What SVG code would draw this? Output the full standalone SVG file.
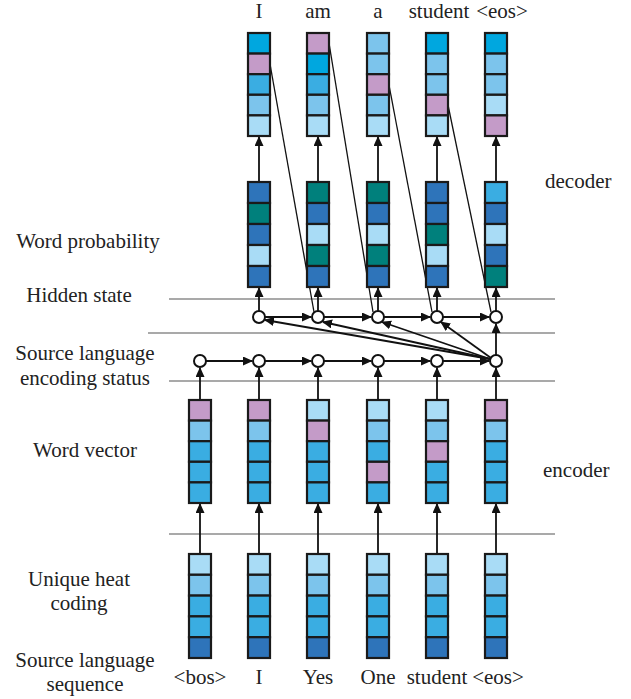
<svg xmlns="http://www.w3.org/2000/svg" width="631" height="699" viewBox="0 0 631 699">
<style>
text{font-family:"Liberation Serif","Times New Roman",serif;font-size:21px;fill:#222}
.c{stroke:#1a1a1a;stroke-width:2.2}
.pa{fill:#a9dcf6}.ml{fill:#7cc4ec}.md{fill:#3aade2}.cy{fill:#00a7df}.dk{fill:#2e74ba}.tl{fill:#00807c}.pk{fill:#c49bc8}
.g{stroke:#8c8c8c;stroke-width:1.5}
.a{stroke:#111;stroke-width:1.8;fill:none;marker-end:url(#ah)}
.t{stroke:#111;stroke-width:1.3;fill:none}
.n{fill:#fff;stroke:#111;stroke-width:2}
</style>
<defs>
<marker id="ah" markerWidth="10" markerHeight="9" refX="9" refY="4.5" orient="auto" markerUnits="userSpaceOnUse">
<path d="M0,0 L10,4.5 L0,9 Z" fill="#111"/>
</marker>
</defs>

<g id="guides">
<line class="g" x1="169" y1="299" x2="555" y2="299"/>
<line class="g" x1="148" y1="333" x2="555" y2="333"/>
<line class="g" x1="169" y1="381" x2="555" y2="381"/>
<line class="g" x1="169" y1="534" x2="555" y2="534"/>
</g>

<g id="labels">
<text x="88" y="248" text-anchor="middle">Word probability</text>
<text x="79" y="302" text-anchor="middle">Hidden state</text>
<text x="85" y="360" text-anchor="middle">Source language</text>
<text x="85" y="385" text-anchor="middle">encoding status</text>
<text x="85" y="457" text-anchor="middle">Word vector</text>
<text x="79" y="586" text-anchor="middle">Unique heat</text>
<text x="79" y="610" text-anchor="middle">coding</text>
<text x="85" y="667" text-anchor="middle">Source language</text>
<text x="85" y="691" text-anchor="middle">sequence</text>
<text x="545" y="188">decoder</text>
<text x="543" y="477">encoder</text>
<text x="259" y="18" text-anchor="middle">I</text>
<text x="318" y="18" text-anchor="middle">am</text>
<text x="378" y="18" text-anchor="middle">a</text>
<text x="439" y="18" text-anchor="middle">student</text>
<text x="502" y="18" text-anchor="middle">&lt;eos&gt;</text>
<text x="200" y="684" text-anchor="middle">&lt;bos&gt;</text>
<text x="259" y="684" text-anchor="middle">I</text>
<text x="318" y="684" text-anchor="middle">Yes</text>
<text x="378" y="684" text-anchor="middle">One</text>
<text x="437" y="684" text-anchor="middle">student</text>
<text x="498" y="684" text-anchor="middle">&lt;eos&gt;</text>
</g>

<g id="connectors">
<line class="a" x1="200" y1="554" x2="200" y2="504"/>
<line class="a" x1="259" y1="554" x2="259" y2="504"/>
<line class="a" x1="318" y1="554" x2="318" y2="504"/>
<line class="a" x1="378" y1="554" x2="378" y2="504"/>
<line class="a" x1="437" y1="554" x2="437" y2="504"/>
<line class="a" x1="496" y1="554" x2="496" y2="504"/>
<line class="a" x1="200" y1="400" x2="200" y2="368"/>
<line class="a" x1="259" y1="400" x2="259" y2="368"/>
<line class="a" x1="318" y1="400" x2="318" y2="368"/>
<line class="a" x1="378" y1="400" x2="378" y2="368"/>
<line class="a" x1="437" y1="400" x2="437" y2="368"/>
<line class="a" x1="496" y1="400" x2="496" y2="368"/>
<line class="a" x1="206" y1="361" x2="252" y2="361"/>
<line class="a" x1="265" y1="361" x2="311" y2="361"/>
<line class="a" x1="324" y1="361" x2="371" y2="361"/>
<line class="a" x1="384" y1="361" x2="430" y2="361"/>
<line class="a" x1="443" y1="361" x2="489" y2="361"/>
<line class="a" x1="496" y1="355" x2="496" y2="324"/>
<line class="a" x1="490" y1="359" x2="265" y2="320"/>
<line class="a" x1="490" y1="359" x2="323" y2="322"/>
<line class="a" x1="490" y1="359" x2="382" y2="322"/>
<line class="a" x1="491" y1="358" x2="441" y2="322"/>
<line class="a" x1="265" y1="317" x2="311" y2="317"/>
<line class="a" x1="324" y1="317" x2="371" y2="317"/>
<line class="a" x1="384" y1="317" x2="430" y2="317"/>
<line class="a" x1="443" y1="317" x2="489" y2="317"/>
<line class="a" x1="259" y1="311" x2="259" y2="288"/>
<line class="a" x1="318" y1="311" x2="318" y2="288"/>
<line class="a" x1="378" y1="311" x2="378" y2="288"/>
<line class="a" x1="437" y1="311" x2="437" y2="288"/>
<line class="a" x1="496" y1="311" x2="496" y2="288"/>
<line class="a" x1="259" y1="182" x2="259" y2="137"/>
<line class="a" x1="318" y1="182" x2="318" y2="137"/>
<line class="a" x1="378" y1="182" x2="378" y2="137"/>
<line class="a" x1="437" y1="182" x2="437" y2="137"/>
<line class="a" x1="496" y1="182" x2="496" y2="137"/>
<line class="t" x1="270" y1="64" x2="314" y2="312"/>
<line class="t" x1="329" y1="43" x2="373" y2="312"/>
<line class="t" x1="389" y1="85" x2="432" y2="312"/>
<line class="t" x1="448" y1="105" x2="491" y2="312"/>
</g>

<g id="encoder-states">
<circle class="n" cx="200" cy="361" r="6"/>
<circle class="n" cx="259" cy="361" r="6"/>
<circle class="n" cx="318" cy="361" r="6"/>
<circle class="n" cx="378" cy="361" r="6"/>
<circle class="n" cx="437" cy="361" r="6"/>
<circle class="n" cx="496" cy="361" r="6"/>
</g>
<g id="decoder-states">
<circle class="n" cx="259" cy="317" r="6"/>
<circle class="n" cx="318" cy="317" r="6"/>
<circle class="n" cx="378" cy="317" r="6"/>
<circle class="n" cx="437" cy="317" r="6"/>
<circle class="n" cx="496" cy="317" r="6"/>
</g>

<g id="out-1" transform="translate(248,33)">
<rect class="c cy" x="0" y="0" width="22" height="20.6"/><rect class="c pk" x="0" y="20.6" width="22" height="20.6"/><rect class="c md" x="0" y="41.2" width="22" height="20.6"/><rect class="c ml" x="0" y="61.8" width="22" height="20.6"/><rect class="c pa" x="0" y="82.4" width="22" height="20.6"/>
</g>
<g id="out-2" transform="translate(307,33)">
<rect class="c pk" x="0" y="0" width="22" height="20.6"/><rect class="c cy" x="0" y="20.6" width="22" height="20.6"/><rect class="c md" x="0" y="41.2" width="22" height="20.6"/><rect class="c ml" x="0" y="61.8" width="22" height="20.6"/><rect class="c pa" x="0" y="82.4" width="22" height="20.6"/>
</g>
<g id="out-3" transform="translate(367,33)">
<rect class="c ml" x="0" y="0" width="22" height="20.6"/><rect class="c ml" x="0" y="20.6" width="22" height="20.6"/><rect class="c pk" x="0" y="41.2" width="22" height="20.6"/><rect class="c ml" x="0" y="61.8" width="22" height="20.6"/><rect class="c pa" x="0" y="82.4" width="22" height="20.6"/>
</g>
<g id="out-4" transform="translate(426,33)">
<rect class="c cy" x="0" y="0" width="22" height="20.6"/><rect class="c ml" x="0" y="20.6" width="22" height="20.6"/><rect class="c ml" x="0" y="41.2" width="22" height="20.6"/><rect class="c pk" x="0" y="61.8" width="22" height="20.6"/><rect class="c pa" x="0" y="82.4" width="22" height="20.6"/>
</g>
<g id="out-5" transform="translate(485,33)">
<rect class="c cy" x="0" y="0" width="22" height="20.6"/><rect class="c ml" x="0" y="20.6" width="22" height="20.6"/><rect class="c ml" x="0" y="41.2" width="22" height="20.6"/><rect class="c pa" x="0" y="61.8" width="22" height="20.6"/><rect class="c pk" x="0" y="82.4" width="22" height="20.6"/>
</g>

<g id="prob-1" transform="translate(248,182)">
<rect class="c dk" x="0" y="0" width="22" height="21"/><rect class="c tl" x="0" y="21" width="22" height="21"/><rect class="c dk" x="0" y="42" width="22" height="21"/><rect class="c pa" x="0" y="63" width="22" height="21"/><rect class="c dk" x="0" y="84" width="22" height="21"/>
</g>
<g id="prob-2" transform="translate(307,182)">
<rect class="c tl" x="0" y="0" width="22" height="21"/><rect class="c dk" x="0" y="21" width="22" height="21"/><rect class="c pa" x="0" y="42" width="22" height="21"/><rect class="c tl" x="0" y="63" width="22" height="21"/><rect class="c dk" x="0" y="84" width="22" height="21"/>
</g>
<g id="prob-3" transform="translate(367,182)">
<rect class="c tl" x="0" y="0" width="22" height="21"/><rect class="c dk" x="0" y="21" width="22" height="21"/><rect class="c pa" x="0" y="42" width="22" height="21"/><rect class="c tl" x="0" y="63" width="22" height="21"/><rect class="c dk" x="0" y="84" width="22" height="21"/>
</g>
<g id="prob-4" transform="translate(426,182)">
<rect class="c dk" x="0" y="0" width="22" height="21"/><rect class="c dk" x="0" y="21" width="22" height="21"/><rect class="c tl" x="0" y="42" width="22" height="21"/><rect class="c pa" x="0" y="63" width="22" height="21"/><rect class="c dk" x="0" y="84" width="22" height="21"/>
</g>
<g id="prob-5" transform="translate(485,182)">
<rect class="c md" x="0" y="0" width="22" height="21"/><rect class="c dk" x="0" y="21" width="22" height="21"/><rect class="c pa" x="0" y="42" width="22" height="21"/><rect class="c dk" x="0" y="63" width="22" height="21"/><rect class="c tl" x="0" y="84" width="22" height="21"/>
</g>

<g id="vec-1" transform="translate(189,400)">
<rect class="c pk" x="0" y="0" width="22" height="20.6"/><rect class="c ml" x="0" y="20.6" width="22" height="20.6"/><rect class="c md" x="0" y="41.2" width="22" height="20.6"/><rect class="c md" x="0" y="61.8" width="22" height="20.6"/><rect class="c md" x="0" y="82.4" width="22" height="20.6"/>
</g>
<g id="vec-2" transform="translate(248,400)">
<rect class="c pk" x="0" y="0" width="22" height="20.6"/><rect class="c ml" x="0" y="20.6" width="22" height="20.6"/><rect class="c md" x="0" y="41.2" width="22" height="20.6"/><rect class="c md" x="0" y="61.8" width="22" height="20.6"/><rect class="c md" x="0" y="82.4" width="22" height="20.6"/>
</g>
<g id="vec-3" transform="translate(307,400)">
<rect class="c pa" x="0" y="0" width="22" height="20.6"/><rect class="c pk" x="0" y="20.6" width="22" height="20.6"/><rect class="c md" x="0" y="41.2" width="22" height="20.6"/><rect class="c md" x="0" y="61.8" width="22" height="20.6"/><rect class="c md" x="0" y="82.4" width="22" height="20.6"/>
</g>
<g id="vec-4" transform="translate(367,400)">
<rect class="c pa" x="0" y="0" width="22" height="20.6"/><rect class="c ml" x="0" y="20.6" width="22" height="20.6"/><rect class="c md" x="0" y="41.2" width="22" height="20.6"/><rect class="c pk" x="0" y="61.8" width="22" height="20.6"/><rect class="c md" x="0" y="82.4" width="22" height="20.6"/>
</g>
<g id="vec-5" transform="translate(426,400)">
<rect class="c pa" x="0" y="0" width="22" height="20.6"/><rect class="c ml" x="0" y="20.6" width="22" height="20.6"/><rect class="c pk" x="0" y="41.2" width="22" height="20.6"/><rect class="c md" x="0" y="61.8" width="22" height="20.6"/><rect class="c md" x="0" y="82.4" width="22" height="20.6"/>
</g>
<g id="vec-6" transform="translate(485,400)">
<rect class="c pk" x="0" y="0" width="22" height="20.6"/><rect class="c ml" x="0" y="20.6" width="22" height="20.6"/><rect class="c md" x="0" y="41.2" width="22" height="20.6"/><rect class="c md" x="0" y="61.8" width="22" height="20.6"/><rect class="c md" x="0" y="82.4" width="22" height="20.6"/>
</g>

<g id="hot-1" transform="translate(189,554)">
<rect class="c pa" x="0" y="0" width="22" height="20.8"/><rect class="c ml" x="0" y="20.8" width="22" height="20.8"/><rect class="c md" x="0" y="41.6" width="22" height="20.8"/><rect class="c md" x="0" y="62.4" width="22" height="20.8"/><rect class="c dk" x="0" y="83.2" width="22" height="20.8"/>
</g>
<g id="hot-2" transform="translate(248,554)">
<rect class="c pa" x="0" y="0" width="22" height="20.8"/><rect class="c ml" x="0" y="20.8" width="22" height="20.8"/><rect class="c md" x="0" y="41.6" width="22" height="20.8"/><rect class="c md" x="0" y="62.4" width="22" height="20.8"/><rect class="c dk" x="0" y="83.2" width="22" height="20.8"/>
</g>
<g id="hot-3" transform="translate(307,554)">
<rect class="c pa" x="0" y="0" width="22" height="20.8"/><rect class="c ml" x="0" y="20.8" width="22" height="20.8"/><rect class="c md" x="0" y="41.6" width="22" height="20.8"/><rect class="c md" x="0" y="62.4" width="22" height="20.8"/><rect class="c dk" x="0" y="83.2" width="22" height="20.8"/>
</g>
<g id="hot-4" transform="translate(367,554)">
<rect class="c pa" x="0" y="0" width="22" height="20.8"/><rect class="c ml" x="0" y="20.8" width="22" height="20.8"/><rect class="c md" x="0" y="41.6" width="22" height="20.8"/><rect class="c md" x="0" y="62.4" width="22" height="20.8"/><rect class="c dk" x="0" y="83.2" width="22" height="20.8"/>
</g>
<g id="hot-5" transform="translate(426,554)">
<rect class="c pa" x="0" y="0" width="22" height="20.8"/><rect class="c ml" x="0" y="20.8" width="22" height="20.8"/><rect class="c md" x="0" y="41.6" width="22" height="20.8"/><rect class="c md" x="0" y="62.4" width="22" height="20.8"/><rect class="c dk" x="0" y="83.2" width="22" height="20.8"/>
</g>
<g id="hot-6" transform="translate(485,554)">
<rect class="c pa" x="0" y="0" width="22" height="20.8"/><rect class="c ml" x="0" y="20.8" width="22" height="20.8"/><rect class="c md" x="0" y="41.6" width="22" height="20.8"/><rect class="c md" x="0" y="62.4" width="22" height="20.8"/><rect class="c dk" x="0" y="83.2" width="22" height="20.8"/>
</g>
</svg>
